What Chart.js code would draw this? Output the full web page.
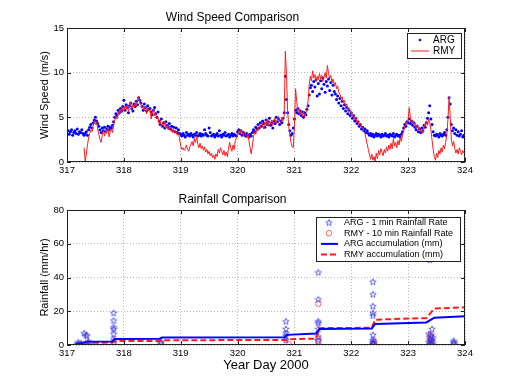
<!DOCTYPE html>
<html>
<head>
<meta charset="utf-8">
<script src="https://cdn.jsdelivr.net/npm/chart.js"></script>
<style>
  html, body { margin: 0; padding: 0; background: #fff; }
  #wrap { position: relative; width: 514px; height: 387px; }
  #windBox { position: absolute; left: 0; top: 0; width: 514px; height: 185px; }
  #rainBox { position: absolute; left: 0; top: 185px; width: 514px; height: 202px; }
</style>
</head>
<body>
<div id="wrap">
  <div id="windBox"><canvas id="windChart"></canvas></div>
  <div id="rainBox"><canvas id="rainChart"></canvas></div>
</div>
<script>
// Wind speed samples, one every 0.02 day from day 317
const windStart = 317;
const windStep = 0.02;

const argWind = [
  3.2,3.5,3.1,3.4,3.6,3.0,3.3,3.5,3.2,3.7,
  3.1,3.4,3.3,3.6,3.2,3.0,3.2,3.4,3.0,3.6,
  3.9,4.2,3.8,4.4,4.7,5.0,4.6,4.3,4.0,3.6,
  3.3,3.8,3.5,3.9,3.4,3.7,4.0,3.6,3.9,3.8,
  4.1,4.5,5.0,5.4,5.2,5.8,5.5,6.0,5.7,6.2,
  6.9,5.8,6.4,6.1,5.5,6.3,6.6,6.0,5.7,6.5,
  6.2,6.8,6.4,7.2,6.9,6.6,6.2,5.8,6.5,6.1,
  5.7,6.3,5.9,6.0,5.6,5.3,5.8,6.1,5.4,5.0,
  5.6,4.6,4.2,4.8,4.0,4.4,3.8,4.5,4.1,3.9,
  4.3,3.7,4.0,3.5,3.9,3.4,3.8,3.3,3.6,3.2,
  3.1,2.9,3.2,3.0,2.8,3.3,3.0,3.1,2.9,3.2,
  3.0,2.8,3.1,3.0,3.3,2.9,3.0,3.2,2.9,3.1,
  3.0,3.6,3.2,3.0,2.9,3.8,3.3,2.9,3.0,3.1,
  2.8,3.0,3.2,2.9,3.5,3.0,2.8,3.1,3.0,3.3,
  2.9,3.0,3.1,2.8,3.0,3.2,2.9,3.1,3.0,2.9,
  3.4,3.6,3.2,3.5,3.0,3.3,3.1,2.9,3.2,3.0,
  2.8,3.1,2.9,3.3,3.6,3.4,3.9,3.7,4.2,3.8,
  4.4,4.0,4.6,4.3,3.9,4.7,4.2,4.5,4.9,4.1,
  4.4,3.8,4.6,4.3,5.0,4.5,4.8,4.2,4.6,4.4,
  4.9,5.5,9.6,7.0,5.5,4.2,3.5,3.0,3.2,3.8,
  4.8,5.8,5.5,6.0,5.4,5.7,5.2,5.6,5.0,5.5,
  5.3,5.9,6.3,7.5,8.3,8.6,7.9,9.0,8.4,9.2,
  7.4,8.8,7.6,9.1,8.2,9.4,8.7,7.8,9.0,8.5,
  9.3,8.0,8.9,7.5,8.6,7.9,7.6,7.0,7.4,6.6,
  7.1,6.3,6.8,6.0,6.4,5.7,6.1,5.4,5.8,5.2,
  5.5,4.9,5.2,4.6,4.9,4.3,4.5,4.0,4.2,3.7,
  3.9,3.5,3.7,3.3,3.5,3.2,3.0,3.2,2.9,3.1,
  2.8,3.0,3.2,2.9,3.1,3.0,2.8,3.1,2.9,3.0,
  3.2,2.9,3.0,2.8,3.1,3.0,2.9,3.2,2.8,3.0,
  3.1,2.9,3.0,2.8,3.1,3.4,3.8,4.2,4.0,4.5,
  4.4,4.8,4.3,4.6,4.1,4.4,3.9,3.6,4.0,3.4,
  3.7,3.3,3.8,3.5,4.1,3.9,4.4,4.9,5.5,6.3,
  4.8,4.2,3.4,3.0,2.9,3.1,3.0,2.8,3.2,3.0,
  2.9,3.1,3.3,3.0,3.6,5.0,7.2,6.5,4.2,3.5,
  3.8,3.2,3.6,3.0,3.4,2.9,3.1,3.5,2.8,3.0,
  2.9
];

const rmyWind = [
  null,null,null,null,null,null,null,null,null,null,
  null,null,null,null,null,1.6,0.1,0.9,1.9,2.7,
  3.2,3.6,3.4,4.0,4.6,4.2,4.5,3.7,3.1,2.5,
  2.2,3.0,3.5,2.9,3.6,3.2,3.8,2.8,3.4,3.7,
  3.3,4.0,4.7,5.2,4.8,5.6,5.3,5.9,5.5,6.1,
  5.7,6.3,5.9,6.4,5.6,6.2,6.7,5.9,6.4,6.1,
  6.6,6.3,7.0,7.4,6.7,6.5,6.0,6.3,5.8,6.2,
  5.4,6.1,5.7,5.9,4.8,5.5,5.9,5.2,5.6,4.8,
  5.0,4.3,4.7,3.9,4.4,4.0,4.5,3.8,4.2,3.6,
  4.0,3.5,3.8,3.3,3.6,3.2,3.4,3.0,3.2,2.6,
  1.8,1.4,1.6,1.3,1.5,1.9,1.4,1.2,1.7,2.0,
  2.3,1.8,2.6,2.2,2.9,2.0,1.6,2.1,1.5,1.8,
  1.3,1.7,1.1,1.4,0.9,1.2,0.7,1.0,0.5,0.8,
  0.3,0.9,0.6,1.4,1.0,1.6,1.2,0.8,1.3,0.7,
  1.1,0.6,1.5,2.2,1.6,1.2,1.9,1.4,2.4,2.7,
  3.1,3.5,3.2,3.6,3.3,2.9,3.4,3.1,2.7,3.2,
  2.4,1.6,0.9,1.8,2.8,3.4,3.1,3.7,3.5,4.0,
  3.8,4.4,4.1,3.7,4.5,4.2,4.8,4.0,4.6,4.3,
  4.7,4.1,4.5,4.9,4.3,4.7,5.1,4.6,4.4,5.0,
  4.6,5.2,12.4,9.8,5.8,4.0,3.0,2.2,1.7,1.6,
  4.0,8.2,6.8,5.6,6.0,5.3,5.8,5.1,5.6,5.0,
  5.4,5.9,6.8,8.6,9.6,9.1,10.2,9.4,9.8,9.0,
  9.6,9.2,9.9,9.3,9.7,9.0,9.5,10.0,9.4,10.8,
  9.9,9.4,9.7,8.9,9.3,8.6,8.9,8.2,8.5,7.8,
  7.6,7.1,7.3,6.6,6.9,6.2,6.5,5.8,6.1,5.5,
  5.6,5.1,5.3,4.8,5.0,4.4,4.6,4.1,4.3,3.8,
  3.9,3.4,3.2,2.6,2.0,1.4,0.8,0.3,0.9,0.2,
  0.6,0.1,1.0,0.4,1.3,0.8,1.5,1.1,0.7,1.4,
  1.0,1.7,1.2,1.9,1.4,2.1,1.5,2.6,1.8,2.2,
  1.6,2.4,1.9,2.8,2.3,3.0,3.4,3.9,4.5,4.2,
  4.8,6.1,4.9,4.4,4.7,4.1,4.4,3.8,4.2,3.6,
  3.9,3.4,3.6,3.2,3.9,4.3,4.6,4.1,4.8,4.4,
  3.6,2.5,1.4,0.6,0.2,1.0,0.5,1.3,0.9,1.6,
  1.1,1.9,1.5,2.2,3.0,4.8,7.3,5.0,2.6,1.8,
  2.3,1.5,1.0,1.4,0.9,1.6,1.2,0.8,1.3,1.0,
  0.9
];

// Rainfall rates (mm/hr)
const argRateDay = [317.18, 317.20, 317.22, 317.25, 317.30, 317.33, 317.35, 317.37, 317.40,
  317.82, 317.82, 317.82, 317.82, 317.82, 317.82, 317.82,
  318.65, 318.65,
  320.85, 320.85, 320.85, 320.85, 320.85,
  321.42, 321.42, 321.42, 321.42, 321.42, 321.42, 321.42,
  322.38, 322.38, 322.38, 322.38, 322.38, 322.38, 322.38, 322.38, 322.38, 322.38,
  323.38, 323.42, 323.36, 323.40, 323.44, 323.38, 323.42, 323.36, 323.40, 323.44, 323.38,
  323.80, 323.80, 323.80];
const argRateMm = [0.8, 1.5, 0.5, 1.0, 7.0, 6.0, 5.5, 2.0, 1.0,
  19.0, 14.5, 10.5, 9.5, 6.5, 3.5, 1.5,
  2.0, 1.0,
  14.0, 9.5, 7.0, 5.5, 3.0,
  43.0, 27.0, 14.0, 13.0, 9.5, 5.0, 2.5,
  37.5, 30.0, 23.0, 19.0, 17.5, 6.0, 3.0, 2.0, 1.0, 0.5,
  50.5, 9.5, 6.5, 5.5, 4.5, 3.5, 2.5, 2.0, 1.5, 1.0, 0.5,
  2.5, 1.5, 1.0];

const rmyRateDay = [317.37, 317.40, 317.82, 318.65, 320.90, 321.42, 321.42, 321.42,
  322.40, 322.40, 322.40, 323.40, 323.40, 323.40, 323.40, 323.40, 323.40, 323.40, 323.82];
const rmyRateMm = [1.0, 0.5, 1.5, 1.0, 0.5, 24.5, 3.5, 2.0,
  2.0, 1.0, 0.5, 6.0, 5.0, 4.0, 3.0, 2.0, 1.0, 0.5, 0.5];

// Accumulations (mm)
const argAccDay = [317.15, 317.25, 317.35, 317.80, 317.84, 318.63, 318.67, 320.83, 320.87,
  321.38, 321.44, 322.36, 322.42, 323.32, 323.46, 324.00];
const argAccMm = [0.5, 1.0, 2.0, 2.1, 3.5, 3.7, 4.4, 4.6, 6.0, 6.8, 9.5, 9.8, 12.5, 13.4, 16.2, 17.0];
const rmyAccDay = [317.30, 317.40, 317.80, 317.84, 318.63, 318.67, 320.87, 320.90, 321.38,
  321.44, 322.36, 322.42, 323.32, 323.46, 324.00];
const rmyAccMm = [0.3, 1.3, 1.5, 2.3, 2.4, 2.8, 3.0, 3.4, 3.8, 10.0, 10.2, 15.0, 16.0, 21.6, 22.3];

const dayTicks = [317, 318, 319, 320, 321, 322, 323, 324];

const FONT = "'Liberation Sans', Arial, sans-serif";
const BLUE = '#0000ff';
const RED = '#ff1a1a';

const series = vals => vals.map((v, i) => ({ x: windStart + i * windStep, y: v }));
const pairs = (xs, ys) => xs.map((x, i) => ({ x: x, y: ys[i] }));

// pentagram marker like matlab's 'p'
function makeStar(color) {
  const c = document.createElement('canvas');
  c.width = 8; c.height = 8;
  const g = c.getContext('2d');
  g.strokeStyle = color;
  g.lineWidth = 0.8;
  g.beginPath();
  for (let k = 0; k < 10; k++) {
    const r = k % 2 ? 1.4 : 3.4;
    const a = -Math.PI / 2 + k * Math.PI / 5;
    const px = 4 + r * Math.cos(a), py = 4.3 + r * Math.sin(a);
    if (k) g.lineTo(px, py); else g.moveTo(px, py);
  }
  g.closePath();
  g.stroke();
  return c;
}
const starImg = makeStar('rgba(50,50,235,0.9)');

// box round the axes, inward tick marks and the legend
const framePlugin = {
  id: 'frame',
  afterDraw(chart, args, opts) {
    const { ctx, chartArea: a, scales } = chart;
    ctx.save();
    ctx.strokeStyle = '#222';
    ctx.lineWidth = 1;
    ctx.strokeRect(a.left + 0.5, a.top + 0.5, a.width - 1, a.height - 1);
    ctx.beginPath();
    scales.x.ticks.forEach(t => {
      const px = Math.round(scales.x.getPixelForValue(t.value)) + 0.5;
      ctx.moveTo(px, a.bottom); ctx.lineTo(px, a.bottom - 4);
      ctx.moveTo(px, a.top); ctx.lineTo(px, a.top + 4);
    });
    scales.y.ticks.forEach(t => {
      const py = Math.round(scales.y.getPixelForValue(t.value)) + 0.5;
      ctx.moveTo(a.left, py); ctx.lineTo(a.left + 4, py);
      ctx.moveTo(a.right, py); ctx.lineTo(a.right - 4, py);
    });
    ctx.stroke();

    const lg = opts.legend;
    if (lg) {
      ctx.fillStyle = '#fff';
      ctx.fillRect(lg.x, lg.y, lg.w, lg.h);
      ctx.strokeStyle = '#222';
      ctx.strokeRect(lg.x + 0.5, lg.y + 0.5, lg.w, lg.h);
      ctx.font = lg.font + 'px ' + FONT;
      ctx.textBaseline = 'middle';
      lg.rows.forEach((r, i) => {
        const y = lg.y + lg.first + i * lg.gap;
        ctx.save();
        if (r.kind === 'dot') {
          ctx.fillStyle = r.color;
          ctx.beginPath(); ctx.arc(lg.markX, y, 1.3, 0, Math.PI * 2); ctx.fill();
        } else if (r.kind === 'star') {
          ctx.drawImage(starImg, lg.markX - 4, y - 4);
        } else if (r.kind === 'circle') {
          ctx.strokeStyle = r.color; ctx.lineWidth = 0.9;
          ctx.beginPath(); ctx.arc(lg.markX, y, 2.8, 0, Math.PI * 2); ctx.stroke();
        } else {
          ctx.strokeStyle = r.color; ctx.lineWidth = r.width;
          ctx.setLineDash(r.dash || []);
          ctx.beginPath(); ctx.moveTo(lg.lineX0, y); ctx.lineTo(lg.lineX1, y); ctx.stroke();
        }
        ctx.restore();
        ctx.fillStyle = '#000';
        ctx.fillText(r.text, lg.textX, y);
      });
    }
    ctx.restore();
  }
};

function axes(yMax, yStep, yTitle, xHeight, xTitle) {
  return {
    x: {
      type: 'linear', min: 317, max: 324,
      afterBuildTicks: s => { s.ticks = dayTicks.map(v => ({ value: v })); },
      ticks: { font: { family: FONT, size: 9.5 }, color: '#000', padding: 3, maxRotation: 0 },
      grid: { color: '#b8b8b8', drawTicks: false },
      border: { display: false, dash: [1, 2] },
      title: xTitle ? { display: true, text: xTitle, color: '#000', font: { family: FONT, size: 13 }, padding: { top: 0, bottom: 14 } } : { display: false },
      afterFit: s => { s.height = xHeight; }
    },
    y: {
      min: 0, max: yMax,
      ticks: { stepSize: yStep, font: { family: FONT, size: 9.5 }, color: '#000', padding: 3 },
      grid: { color: '#b8b8b8', drawTicks: false },
      border: { display: false, dash: [1, 2] },
      title: { display: true, text: yTitle, color: '#000', font: { family: FONT, size: 11 }, padding: { top: 38, bottom: 0 } },
      afterFit: s => { s.width = 67; }
    }
  };
}

new Chart(document.getElementById('windChart'), {
  type: 'scatter',
  data: {
    datasets: [
      {
        label: 'RMY', data: series(rmyWind), showLine: true, spanGaps: false,
        borderColor: RED, borderWidth: 1, pointRadius: 0, order: 0
      },
      {
        label: 'ARG', data: series(argWind),
        backgroundColor: BLUE, borderWidth: 0, pointRadius: 1.5, order: 1
      }
    ]
  },
  options: {
    responsive: true, maintainAspectRatio: false, animation: false,
    layout: { padding: { left: 0, right: 49, top: 0, bottom: 0 } },
    plugins: {
      legend: { display: false },
      tooltip: { enabled: false },
      title: { display: true, text: 'Wind Speed Comparison', color: '#000', font: { family: FONT, size: 12, weight: 'normal' }, padding: { top: 10, bottom: 3.6 } },
      frame: {
        legend: {
          x: 407, y: 33, w: 54, h: 25, first: 7, gap: 11, font: 10,
          markX: 420, lineX0: 411, lineX1: 429, textX: 433,
          rows: [
            { kind: 'dot', color: BLUE, text: 'ARG' },
            { kind: 'line', color: RED, width: 1, text: 'RMY' }
          ]
        }
      }
    },
    scales: axes(15, 5, 'Wind Speed (m/s)', 23, null)
  },
  plugins: [framePlugin]
});

new Chart(document.getElementById('rainChart'), {
  type: 'scatter',
  data: {
    datasets: [
      {
        label: 'ARG accumulation (mm)', data: pairs(argAccDay, argAccMm), showLine: true,
        borderColor: BLUE, borderWidth: 2, pointRadius: 0, order: 0
      },
      {
        label: 'RMY accumulation (mm)', data: pairs(rmyAccDay, rmyAccMm), showLine: true,
        borderColor: RED, borderWidth: 2, borderDash: [6, 3], pointRadius: 0, order: 1
      },
      {
        label: 'ARG - 1 min Rainfall Rate', data: pairs(argRateDay, argRateMm),
        pointStyle: starImg, order: 2
      },
      {
        label: 'RMY - 10 min Rainfall Rate', data: pairs(rmyRateDay, rmyRateMm),
        pointStyle: 'circle', pointRadius: 2.8, borderColor: 'rgba(255,70,70,0.9)', borderWidth: 0.9,
        backgroundColor: 'rgba(0,0,0,0)', order: 3
      }
    ]
  },
  options: {
    responsive: true, maintainAspectRatio: false, animation: false,
    layout: { padding: { left: 0, right: 49, top: 0, bottom: 0 } },
    plugins: {
      legend: { display: false },
      tooltip: { enabled: false },
      title: { display: true, text: 'Rainfall Comparison', color: '#000', font: { family: FONT, size: 12, weight: 'normal' }, padding: { top: 7, bottom: 3.6 } },
      frame: {
        legend: {
          x: 316, y: 32, w: 144, h: 44, first: 5.5, gap: 10.7, font: 9,
          markX: 329, lineX0: 321, lineX1: 338, textX: 344,
          rows: [
            { kind: 'star', color: BLUE, text: 'ARG - 1 min Rainfall Rate' },
            { kind: 'circle', color: 'rgba(255,70,70,0.9)', text: 'RMY - 10 min Rainfall Rate' },
            { kind: 'line', color: BLUE, width: 2, text: 'ARG accumulation (mm)' },
            { kind: 'line', color: RED, width: 2, dash: [6, 3], text: 'RMY accumulation (mm)' }
          ]
        }
      }
    },
    scales: axes(80, 20, 'Rainfall (mm/hr)', 42, 'Year Day 2000')
  },
  plugins: [framePlugin]
});
</script>
</body>
</html>
